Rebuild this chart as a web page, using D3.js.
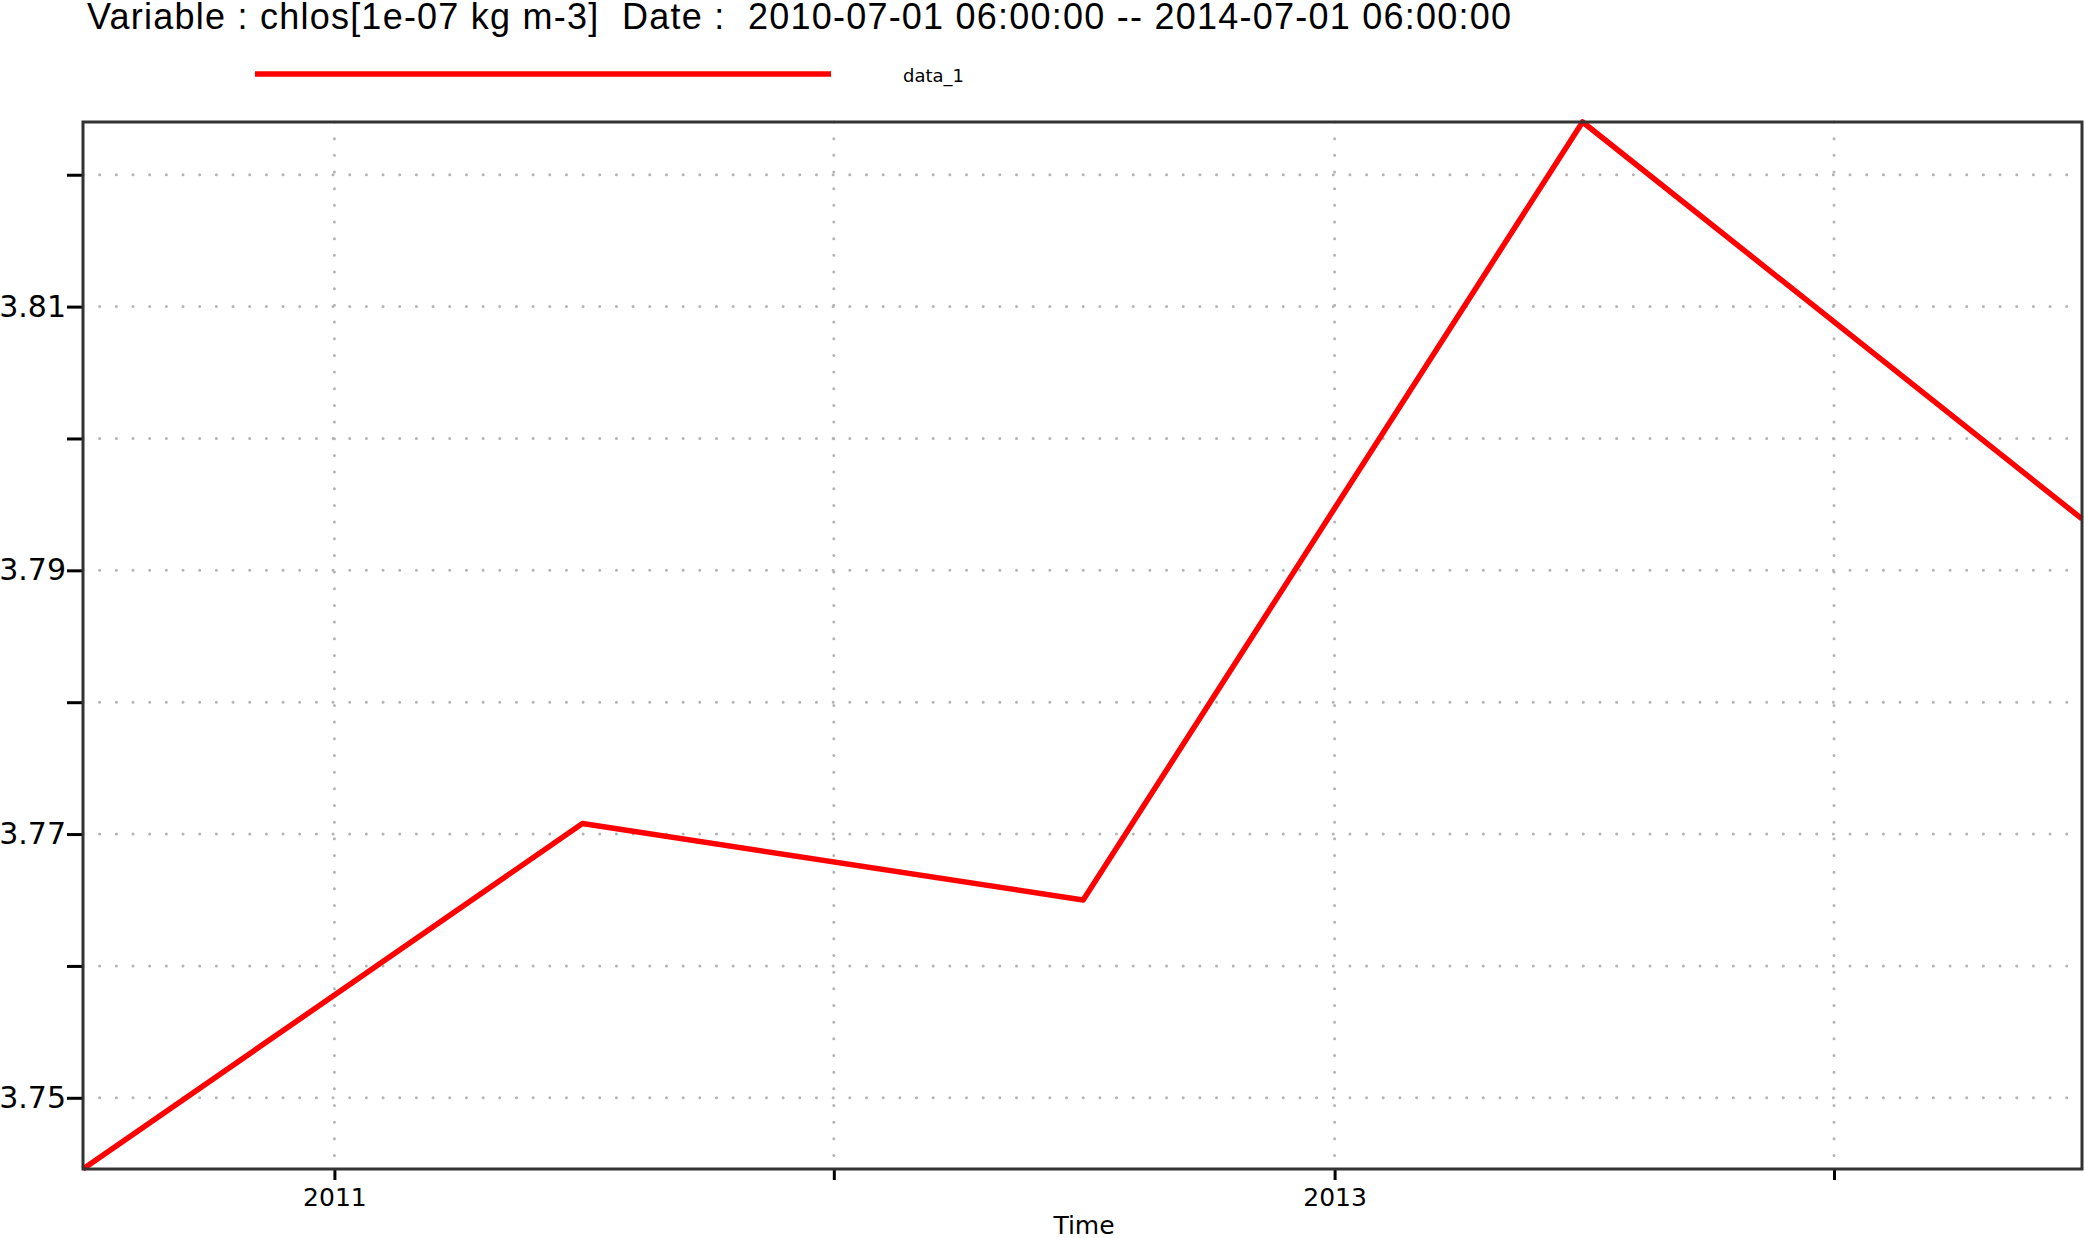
<!DOCTYPE html>
<html>
<head>
<meta charset="utf-8">
<script src="https://cdn.jsdelivr.net/npm/d3@7"></script>
<style>
  body { margin: 0; background: #fff; }
  svg { display: block; }
</style>
</head>
<body>
<div id="chart"></div>
<script>
// data
var dates = ["2010-07-01 06:00:00", "2011-07-01 06:00:00", "2012-07-01 06:00:00",
             "2013-07-01 06:00:00", "2014-07-01 06:00:00"];
var values = [3.7446, 3.7708, 3.7650, 3.8240, 3.7939];
var seriesName = "data_1";

var xTickDates = ["2011-01-01", "2012-01-01", "2013-01-01", "2014-01-01"];
var xTickLabels = ["2011", "", "2013", ""];
var yTickValues = [3.75, 3.76, 3.77, 3.78, 3.79, 3.80, 3.81, 3.82];
var yTickLabels = ["3.75", "", "3.77", "", "3.79", "", "3.81", ""];

var titleText = "Variable : chlos[1e-07 kg m-3]  Date :  2010-07-01 06:00:00 -- 2014-07-01 06:00:00";
var xTitle = "Time";

// set the dimensions and margins of the graph
var W = 2085, H = 1238;
var margin = {top: 122, right: 3, bottom: 69, left: 83},
    width = W - margin.left - margin.right,
    height = H - margin.top - margin.bottom;

var parseT = d3.utcParse("%Y-%m-%d %H:%M:%S");
var parseD = d3.utcParse("%Y-%m-%d");

var data = dates.map(function(d, i) { return {t: parseT(d), v: values[i]}; });

var svg = d3.select("#chart")
  .append("svg")
  .attr("width", W)
  .attr("height", H);

var g = svg.append("g")
  .attr("transform", "translate(" + margin.left + "," + margin.top + ")");

var x = d3.scaleUtc()
  .domain(d3.extent(data, function(d) { return d.t; }))
  .range([0, width]);

var y = d3.scaleLinear()
  .domain(d3.extent(values))
  .range([height, 0]);

var xTicks = xTickDates.map(parseD);

// grid
var dots = "0,16.67";
g.append("g").selectAll("line.hg")
  .data(yTickValues)
  .enter().append("line")
    .attr("x1", 0).attr("x2", width)
    .attr("y1", function(d) { return y(d); })
    .attr("y2", function(d) { return y(d); })
    .attr("stroke", "#b4b4b4")
    .attr("stroke-width", 3)
    .attr("stroke-linecap", "round")
    .attr("stroke-dasharray", dots);

g.append("g").selectAll("line.vg")
  .data(xTicks)
  .enter().append("line")
    .attr("x1", function(d) { return x(d); })
    .attr("x2", function(d) { return x(d); })
    .attr("y1", 0).attr("y2", height)
    .attr("stroke", "#b4b4b4")
    .attr("stroke-width", 3)
    .attr("stroke-linecap", "round")
    .attr("stroke-dasharray", dots);

// Add X axis
var xAxis = g.append("g")
  .attr("transform", "translate(0," + height + ")")
  .call(d3.axisBottom(x)
    .tickValues(xTicks)
    .tickSize(11)
    .tickPadding(8)
    .tickFormat(function(d, i) { return xTickLabels[i]; }));
xAxis.select(".domain").remove();
xAxis.selectAll(".tick line").attr("stroke", "#000").attr("stroke-width", 3);
xAxis.selectAll(".tick text")
  .attr("font-family", "DejaVu Sans")
  .attr("font-size", "25px")
  .attr("fill", "#000");

// Add Y axis
var yAxis = g.append("g")
  .call(d3.axisLeft(y)
    .tickValues(yTickValues)
    .tickSize(16)
    .tickPadding(1)
    .tickFormat(function(d, i) { return yTickLabels[i]; }));
yAxis.select(".domain").remove();
yAxis.selectAll(".tick line").attr("stroke", "#000").attr("stroke-width", 3);
yAxis.selectAll(".tick text")
  .attr("font-family", "DejaVu Sans")
  .attr("font-size", "30px")
  .attr("fill", "#000");

// the line
var line = d3.line()
  .x(function(d) { return x(d.t); })
  .y(function(d) { return y(d.v); });

g.append("path")
  .datum(data)
  .attr("d", line)
  .attr("fill", "none")
  .attr("stroke", "#ff0000")
  .attr("stroke-width", 5.5)
  .attr("stroke-linejoin", "round");

// frame
g.append("rect")
  .attr("x", 0).attr("y", 0)
  .attr("width", width).attr("height", height)
  .attr("fill", "none")
  .attr("stroke", "#333")
  .attr("stroke-width", 3);

// x axis title
svg.append("text")
  .attr("x", 1084).attr("y", 1234)
  .attr("text-anchor", "middle")
  .attr("font-family", "DejaVu Sans")
  .attr("font-size", "25px")
  .text(xTitle);

// title (double spaces kept)
svg.append("text")
  .attr("x", 87).attr("y", 29)
  .attr("font-family", "Liberation Sans, Arial, sans-serif")
  .attr("font-size", "36px")
  .attr("textLength", 1424)
  .attr("lengthAdjust", "spacing")
  .style("white-space", "pre")
  .text(titleText);

// legend
svg.append("line")
  .attr("x1", 255).attr("x2", 831)
  .attr("y1", 74).attr("y2", 74)
  .attr("stroke", "#ff0000")
  .attr("stroke-width", 5.5);
svg.append("text")
  .attr("x", 903).attr("y", 82)
  .attr("font-family", "DejaVu Sans")
  .attr("font-size", "18px")
  .text(seriesName);
</script>
</body>
</html>
